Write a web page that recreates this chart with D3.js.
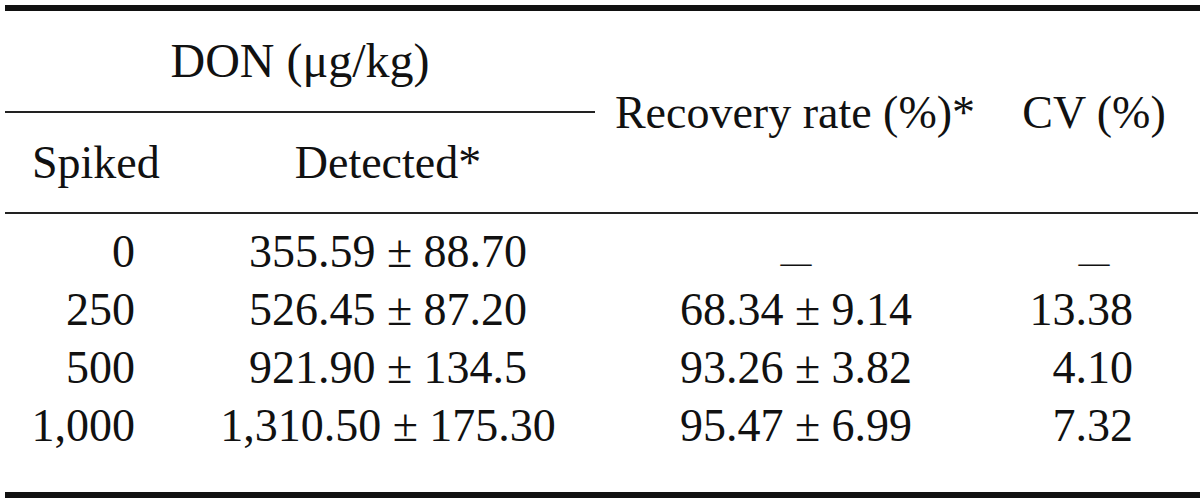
<!DOCTYPE html>
<html>
<head>
<meta charset="utf-8">
<script src="https://cdn.jsdelivr.net/npm/d3@7"></script>
<style>
  body { margin: 0; background: #fff; }
  svg text { font-family: "Liberation Serif", "Times New Roman", serif; fill: #111; }
</style>
</head>
<body>
<div id="table"></div>
<script>
// table values
const spiked = ["0", "250", "500", "1,000"];
const detected = ["355.59 ± 88.70", "526.45 ± 87.20", "921.90 ± 134.5", "1,310.50 ± 175.30"];
const recovery = ["—", "68.34 ± 9.14", "93.26 ± 3.82", "95.47 ± 6.99"];
const cv = ["—", "13.38", "4.10", "7.32"];

const width = 1200, height = 503;

let svg = d3.select("#table").append("svg")
    .attr("width", width)
    .attr("height", height);

// row positions (baselines)
let rowY = d3.scalePoint()
    .domain(d3.range(spiked.length))
    .range([267, 441]);

// column anchors
let cols = [
    {values: spiked, x: 135, anchor: "end", dashX: 135},
    {values: detected, x: 388, anchor: "middle", dashX: 388},
    {values: recovery, x: 796, anchor: "middle", dashX: 796},
    {values: cv, x: 1133, anchor: "end", dashX: 1094}
];

// rules
svg.append("rect").attr("x", 5).attr("y", 5).attr("width", 1195).attr("height", 6).attr("fill", "#111");
svg.append("rect").attr("x", 5).attr("y", 111).attr("width", 590).attr("height", 2).attr("fill", "#222");
svg.append("rect").attr("x", 5).attr("y", 212).attr("width", 1193).attr("height", 2).attr("fill", "#222");
svg.append("rect").attr("x", 5).attr("y", 492).attr("width", 1195).attr("height", 6).attr("fill", "#111");

// headers
let headers = [
    {t: "DON (μg/kg)", x: 300, y: 77, anchor: "middle", size: 48},
    {t: "Spiked", x: 32, y: 178, anchor: "start", size: 46},
    {t: "Detected*", x: 388, y: 178, anchor: "middle", size: 46},
    {t: "Recovery rate (%)*", x: 795, y: 128, anchor: "middle", size: 46},
    {t: "CV (%)", x: 1094, y: 128, anchor: "middle", size: 46}
];

svg.selectAll(".hdr")
    .data(headers)
    .enter().append("text")
    .attr("class", "hdr")
    .attr("x", d => d.x)
    .attr("y", d => d.y)
    .attr("text-anchor", d => d.anchor)
    .attr("font-size", d => d.size)
    .text(d => d.t);

// body cells
cols.forEach((c, ci) => {
    svg.selectAll(".c" + ci)
        .data(c.values)
        .enter().append("text")
        .attr("class", "c" + ci)
        .attr("x", d => d === "—" ? c.dashX : c.x)
        .attr("y", (d, i) => d === "—" ? rowY(i) + 6 : rowY(i))
        .attr("text-anchor", d => d === "—" ? "middle" : c.anchor)
        .attr("font-size", d => d === "—" ? 31 : 46)
        .text(d => d);
});
</script>
</body>
</html>
